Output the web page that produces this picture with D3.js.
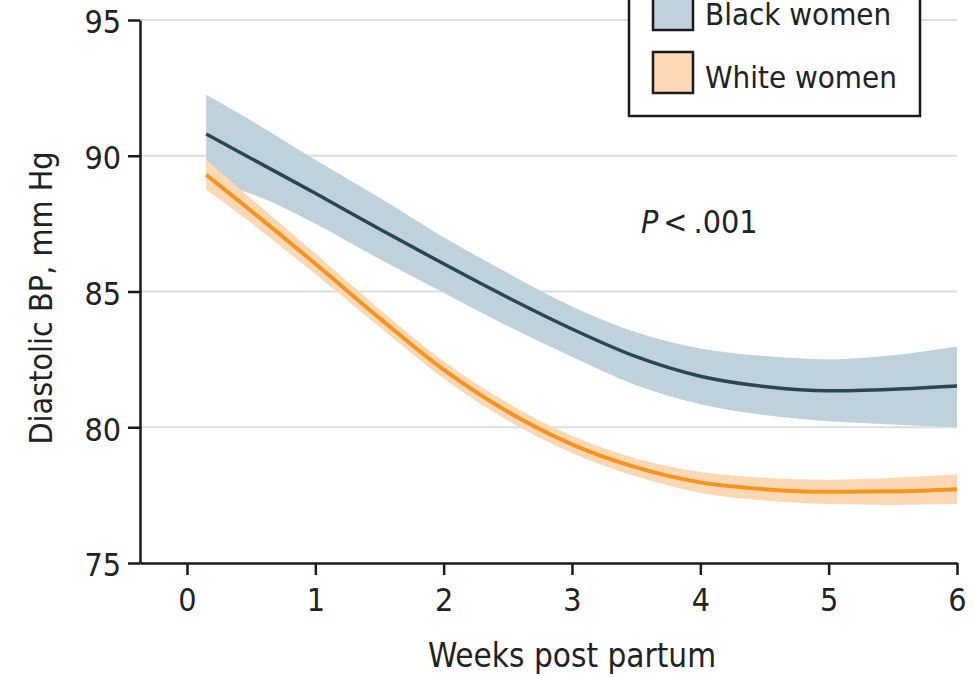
<!DOCTYPE html>
<html>
<head>
<meta charset="utf-8">
<script src="https://cdn.jsdelivr.net/npm/d3@7"></script>
<style>
  body { margin: 0; background: #fff; }
  svg text { font-family: "DejaVu Sans Condensed", "DejaVu Sans", sans-serif; font-stretch: condensed; fill: #222; }
</style>
</head>
<body>
<svg id="chart" width="975" height="677"></svg>
<script>
let weeks = [0.15, 0.5, 1, 1.5, 2, 2.5, 3, 3.5, 4, 4.5, 5, 5.5, 6];

// Black women: mean and 95% band
let blackMean  = [90.8, 89.9, 88.62, 87.3, 86.02, 84.78, 83.62, 82.6, 81.88, 81.5, 81.34, 81.4, 81.52];
let blackUpper = [92.25, 91.3, 89.85, 88.45, 87.0, 85.68, 84.45, 83.5, 82.9, 82.62, 82.5, 82.65, 82.97];
let blackLower = [89.1, 88.6, 87.5, 86.2, 84.95, 83.72, 82.6, 81.55, 80.85, 80.45, 80.22, 80.1, 80.0];

// White women: mean and 95% band
let whiteMean  = [89.3, 87.97, 86.02, 84.02, 82.12, 80.57, 79.37, 78.52, 77.97, 77.72, 77.62, 77.64, 77.72];
let whiteUpper = [89.85, 88.42, 86.4, 84.35, 82.44, 80.89, 79.69, 78.85, 78.35, 78.14, 78.07, 78.14, 78.27];
let whiteLower = [88.75, 87.52, 85.64, 83.69, 81.8, 80.25, 79.05, 78.19, 77.59, 77.3, 77.17, 77.14, 77.17];

let xTicks = [0, 1, 2, 3, 4, 5, 6];
let yTicks = [75, 80, 85, 90, 95];
let gridTicks = [80, 85, 90, 95];
let legendLabels = ["Black women", "White women"];

let svg = d3.select("#chart");

let x = d3.scaleLinear().domain([-0.366, 6]).range([140, 957]);
let y = d3.scaleLinear().domain([75, 95]).range([563, 20]);

// gridlines
svg.append("g")
    .selectAll("line")
    .data(gridTicks)
    .enter().append("line")
    .attr("x1", x(-0.366))
    .attr("x2", x(6))
    .attr("y1", d => y(d))
    .attr("y2", d => y(d))
    .style("stroke", "#dedede")
    .style("stroke-width", 2);

let area = d3.area()
    .x(d => x(d[0]))
    .y0(d => y(d[1]))
    .y1(d => y(d[2]))
    .curve(d3.curveMonotoneX);

let line = d3.line()
    .x(d => x(d[0]))
    .y(d => y(d[1]))
    .curve(d3.curveMonotoneX);

let blackBand = d3.zip(weeks, blackLower, blackUpper);
let whiteBand = d3.zip(weeks, whiteLower, whiteUpper);

svg.append("path").datum(blackBand).attr("d", area).style("fill", "#bfd1db");
svg.append("path").datum(whiteBand).attr("d", area).style("fill", "#fdd8b4");

svg.append("path").datum(d3.zip(weeks, blackMean)).attr("d", line)
    .style("fill", "none").style("stroke", "#29474f").style("stroke-width", 3.5);
svg.append("path").datum(d3.zip(weeks, whiteMean)).attr("d", line)
    .style("fill", "none").style("stroke", "#f7931e").style("stroke-width", 4);

// axes
let yAxis = svg.append("g")
    .attr("transform", "translate(140,0)")
    .call(d3.axisLeft(y).tickValues(yTicks).tickFormat(d3.format("d"))
        .tickSize(12).tickSizeOuter(0).tickPadding(7));

let xAxis = svg.append("g")
    .attr("transform", "translate(0,563)")
    .call(d3.axisBottom(x).tickValues(xTicks).tickFormat(d3.format("d"))
        .tickSize(12).tickSizeOuter(0).tickPadding(12));

[yAxis, xAxis].forEach(function(g) {
    g.select(".domain").style("stroke", "#1a1a1a").style("stroke-width", 2.5);
    g.selectAll(".tick line").style("stroke", "#1a1a1a").style("stroke-width", 2.5);
    g.selectAll(".tick text").style("font-size", "32px").style("fill", "#222");
    g.attr("font-family", null).attr("font-size", null);
});
yAxis.selectAll(".tick text").attr("dy", "0.4em");
xAxis.selectAll(".tick text").attr("dy", "0.75em");

// axis titles
svg.append("text")
    .attr("x", 572)
    .attr("y", 667)
    .attr("text-anchor", "middle")
    .style("font-size", "33px")
    .text("Weeks post partum");

svg.append("text")
    .attr("transform", "translate(52,298) rotate(-90)")
    .attr("text-anchor", "middle")
    .style("font-size", "32px")
    .text("Diastolic BP, mm Hg");

// p value
let pText = svg.append("text")
    .attr("x", 641)
    .attr("y", 233)
    .style("font-size", "32px");
pText.append("tspan").style("font-style", "italic").text("P");
pText.append("tspan").attr("dx", 5).text("<");
pText.append("tspan").attr("dx", 6).text(".001");

// legend
svg.append("rect")
    .attr("x", 629)
    .attr("y", -30)
    .attr("width", 291)
    .attr("height", 146)
    .style("fill", "#fff")
    .style("stroke", "#1a1a1a")
    .style("stroke-width", 2.5);

let legendColors = ["#bfd1db", "#fdd8b4"];
let legend = svg.append("g")
    .selectAll("g")
    .data(legendLabels)
    .enter().append("g")
    .attr("transform", (d, i) => "translate(653," + (-11 + i * 63) + ")");

legend.append("rect")
    .attr("width", 40)
    .attr("height", 41)
    .style("fill", (d, i) => legendColors[i])
    .style("stroke", "#1a1a1a")
    .style("stroke-width", 2.5);

legend.append("text")
    .attr("x", 52)
    .attr("y", 36)
    .style("font-size", "31px")
    .text(d => d);
</script>
</body>
</html>
